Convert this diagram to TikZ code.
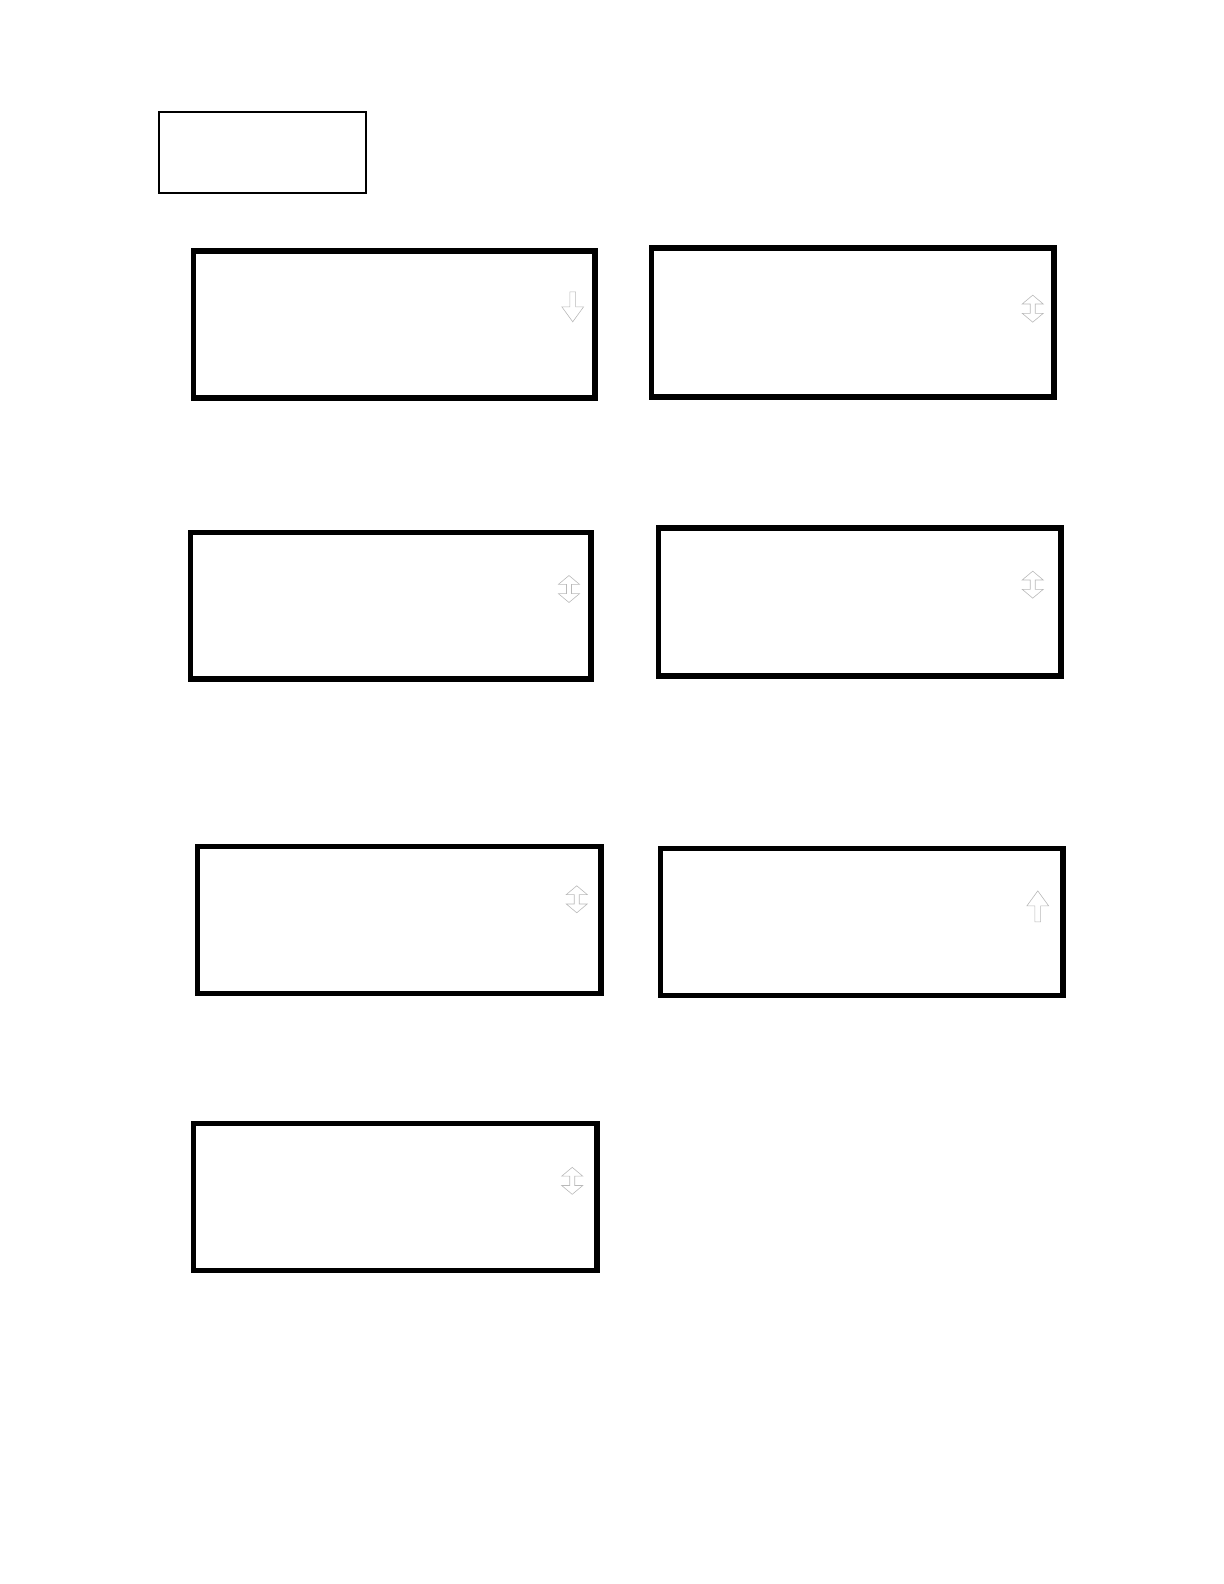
\documentclass[tikz,border=0pt]{standalone}
\usepackage{tikz}
\usetikzlibrary{shapes.arrows}

\tikzset{
	panel/.style={rectangle,draw,line width=5.5pt,minimum width=402.5pt,minimum height=146.6pt,inner sep=0pt},
	titlebox/.style={rectangle,draw,line width=2pt,minimum width=207.3pt,minimum height=80.9pt,inner sep=0pt},
	scrollone/.style={single arrow,draw=gray!55,line width=0.6pt,inner sep=2.6pt,single arrow head extend=8pt,single arrow tip angle=72,minimum height=30pt},
	scrollboth/.style={double arrow,draw=gray!55,line width=0.6pt,inner sep=2.2pt,double arrow head extend=8pt,double arrow tip angle=100,minimum height=27pt,shape border rotate=90}
}

\begin{document}
\begin{tikzpicture}[x=1.011pt,y=-1.011pt]
	\useasboundingbox (0,0) rectangle (1210.7,1566.8);
	\node [titlebox] (title) at (259.5,151) {};

	\node [panel,minimum width=401.5pt] (p1) at (390,321) {};
	\node [panel,minimum height=148.6pt] (p2) at (843.5,319) {};
	\node [panel,minimum width=400.5pt] (p3) at (386.5,599) {};
	\node [panel,minimum height=147.6pt] (p4) at (850.5,595.5) {};
	\node [panel,minimum width=403.5pt] (p5) at (395,910) {};
	\node [panel] (p6) at (852.5,912) {};
	\node [panel,minimum width=403.5pt] (p7) at (391,1184) {};

	\node [scrollone,shape border rotate=270] (s1) at (566.5,301.5) {};
	\node [scrollboth] (s2) at (1021.5,305.3) {};
	\node [scrollboth] (s3) at (562.8,582.6) {};
	\node [scrollboth] (s4) at (1021.5,578.3) {};
	\node [scrollboth] (s5) at (570.5,889.5) {};
	\node [scrollone,shape border rotate=90,minimum height=31pt] (s6) at (1026.5,898.5) {};
	\node [scrollboth] (s7) at (566,1168) {};
\end{tikzpicture}
\end{document}
